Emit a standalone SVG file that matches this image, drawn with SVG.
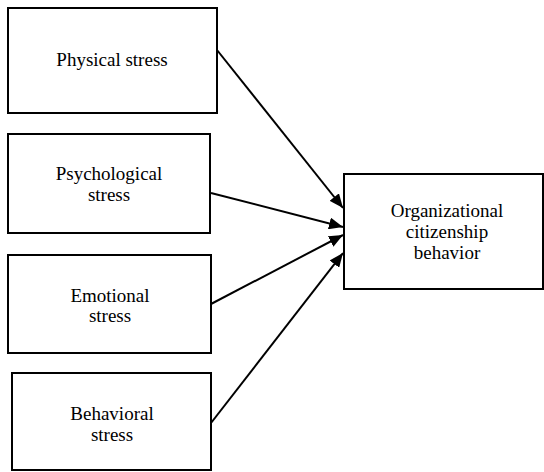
<svg xmlns="http://www.w3.org/2000/svg" width="544" height="472" viewBox="0 0 544 472">
<defs>
<marker id="arr" markerWidth="14" markerHeight="12" refX="14" refY="6" orient="auto" markerUnits="userSpaceOnUse">
<path d="M0,0 L14,6 L0,12 Z" fill="#000"/>
</marker>
<style>
.box{fill:#fff;stroke:#000;stroke-width:2}
.t{font-family:"Liberation Serif","Times New Roman",serif;font-size:19px;fill:#000;text-anchor:middle}
.c{stroke:#000;stroke-width:2;fill:none;marker-end:url(#arr)}
</style>
</defs>
<rect width="544" height="472" fill="#fff"/>
<g id="physical">
<rect class="box" x="8" y="8" width="209" height="105"/>
<text class="t" x="112" y="66">Physical stress</text>
</g>
<g id="psychological">
<rect class="box" x="8" y="134" width="202" height="99"/>
<text class="t" x="109" y="180">Psychological</text>
<text class="t" x="109" y="201">stress</text>
</g>
<g id="emotional">
<rect class="box" x="8" y="255" width="203" height="98"/>
<text class="t" x="110" y="302">Emotional</text>
<text class="t" x="110" y="322">stress</text>
</g>
<g id="behavioral">
<rect class="box" x="12" y="373" width="199" height="97"/>
<text class="t" x="112" y="420">Behavioral</text>
<text class="t" x="112" y="441">stress</text>
</g>
<g id="ocb">
<rect class="box" x="344" y="174" width="199" height="115"/>
<text class="t" x="447" y="217">Organizational</text>
<text class="t" x="447" y="238">citizenship</text>
<text class="t" x="447" y="259">behavior</text>
</g>
<g id="connectors">
<line class="c" x1="217" y1="50" x2="343" y2="208"/>
<line class="c" x1="211" y1="193" x2="343" y2="227"/>
<line class="c" x1="211" y1="304" x2="343" y2="235"/>
<line class="c" x1="211" y1="423" x2="343" y2="253"/>
</g>
</svg>
